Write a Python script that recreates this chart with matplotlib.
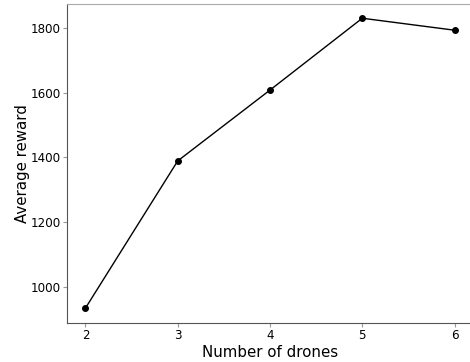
import matplotlib
matplotlib.use("Agg")
import matplotlib.pyplot as plt

drones = [2, 3, 4, 5, 6]
avg_reward = [934, 1389, 1608, 1830, 1793]
x_ticks = [2, 3, 4, 5, 6]
y_ticks = [1000, 1200, 1400, 1600, 1800]

fig = plt.figure(figsize=(4.70, 3.62), dpi=100)
ax = fig.add_axes([67 / 470, 39 / 362, 406 / 470, 319 / 362])

ax.plot(drones, avg_reward, color="black", linewidth=1.0,
        marker="o", markersize=4)

ax.set_xlim(1.8, 6.2)
ax.set_ylim(888, 1874)
ax.set_xticks(x_ticks)
ax.set_yticks(y_ticks)

ax.set_xlabel("Number of drones", fontsize=10.8, labelpad=2)
ax.set_ylabel("Average reward", fontsize=10.8, labelpad=0)
ax.tick_params(labelsize=8.6, length=3, width=0.8, color="#999999", pad=1.5)

for side in ("left", "bottom"):
    ax.spines[side].set_color("#555555")
for side in ("top", "right"):
    ax.spines[side].set_color("#aaaaaa")

fig.savefig("out.png", dpi=100)
